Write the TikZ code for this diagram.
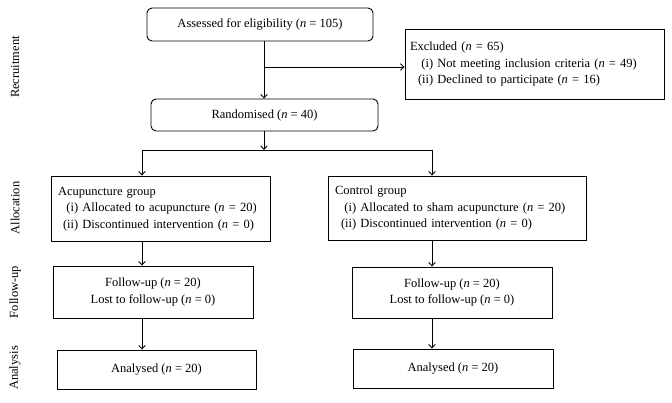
\documentclass[tikz,border=0pt]{standalone}
\usepackage{fontspec}
\setmainfont{Liberation Serif}
\usetikzlibrary{arrows.meta}
\newcommand\fsz{\fontsize{12.5}{16.5}\selectfont}
\begin{document}
\begin{tikzpicture}[x=1pt,y=-1pt,
  line width=0.9pt,
  box/.style={draw, inner xsep=7pt, inner ysep=0pt, font=\fsz, align=center},
  rbox/.style={box, rounded corners=5pt},
  lbox/.style={draw, inner ysep=0pt, font=\fsz, align=left},
  side/.style={rotate=90, font=\fsz},
  arr/.style={-{Straight Barb[length=3.5pt,width=6.5pt]}},
  ln/.style={-}]
\useasboundingbox (0,0) rectangle (672,403);

% side labels
\node[side] (sRec) at (15,67) {Recruitment};
\node[side] (sAll) at (15,208) {Allocation};
\node[side] (sFol) at (15,292) {Follow-up};
\node[side] (sAna) at (15,368) {Analysis};

% boxes
\node[rbox, minimum width=226pt, minimum height=33pt] (assess) at (260,24.5)
  {Assessed for eligibility (\textit{n} = 105)};
\node[lbox, inner xsep=5pt, minimum width=259pt, minimum height=70pt, text width=249pt] (excl) at (534.5,64)
  {\begin{tabular}{@{}r@{\ }l@{}}
   \multicolumn{2}{@{}l@{}}{Excluded (\textit{n} = 65)}\\
   (i) & Not meeting inclusion criteria (\textit{n} = 49)\\
   \hspace{8pt}(ii) & Declined to participate (\textit{n} = 16)
   \end{tabular}};
\node[rbox, minimum width=227pt, minimum height=32pt] (rand) at (264.5,115)
  {Randomised (\textit{n} = 40)};

\node[lbox, inner xsep=7pt, minimum width=219pt, minimum height=65pt, text width=205pt] (acu) at (160.5,208.5)
  {\begin{tabular}{@{}r@{\ }l@{}}
   \multicolumn{2}{@{}l@{}}{Acupuncture group}\\
   (i) & Allocated to acupuncture (\textit{n} = 20)\\
   \hspace{5pt}(ii) & Discontinued intervention (\textit{n} = 0)
   \end{tabular}};
\node[lbox, inner xsep=7pt, minimum width=258pt, minimum height=64pt, text width=244pt] (ctrl) at (457,208)
  {\begin{tabular}{@{}r@{\ }l@{}}
   \multicolumn{2}{@{}l@{}}{Control group}\\
   (i) & Allocated to sham acupuncture (\textit{n} = 20)\\
   \hspace{6pt}(ii) & Discontinued intervention (\textit{n} = 0)
   \end{tabular}};

\node[box, minimum width=200pt, minimum height=52pt] (fu1) at (153,292)
  {Follow-up (\textit{n} = 20)\\ Lost to follow-up (\textit{n} = 0)};
\node[box, minimum width=200pt, minimum height=51pt] (fu2) at (452,292.5)
  {Follow-up (\textit{n} = 20)\\ Lost to follow-up (\textit{n} = 0)};

\node[box, minimum width=199pt, minimum height=39pt] (an1) at (156.5,369.5)
  {Analysed (\textit{n} = 20)};
\node[box, minimum width=200pt, minimum height=39pt] (an2) at (453,368.5)
  {Analysed (\textit{n} = 20)};

% connector coordinates
\coordinate (mid) at (264,0);
\coordinate (cl) at (142,0);
\coordinate (cr) at (432,0);
\coordinate (br) at (264,67);
\coordinate (split) at (264,150);
\coordinate (splitL) at (142,150);
\coordinate (splitR) at (432,150);

\draw[arr] (assess.south -| mid) -- (rand.north -| mid);
\draw[arr] (br) -- (br -| excl.west);
\draw[arr] (rand.south -| mid) -- (split);
\draw[ln] (splitL) -- (splitR);
\draw[arr] (splitL) -- (acu.north -| cl);
\draw[arr] (splitR) -- (ctrl.north -| cr);
\draw[arr] (acu.south -| cl) -- (fu1.north -| cl);
\draw[arr] (ctrl.south -| cr) -- (fu2.north -| cr);
\draw[arr] (fu1.south -| cl) -- (an1.north -| cl);
\draw[arr] (fu2.south -| cr) -- (an2.north -| cr);
\end{tikzpicture}
\end{document}
